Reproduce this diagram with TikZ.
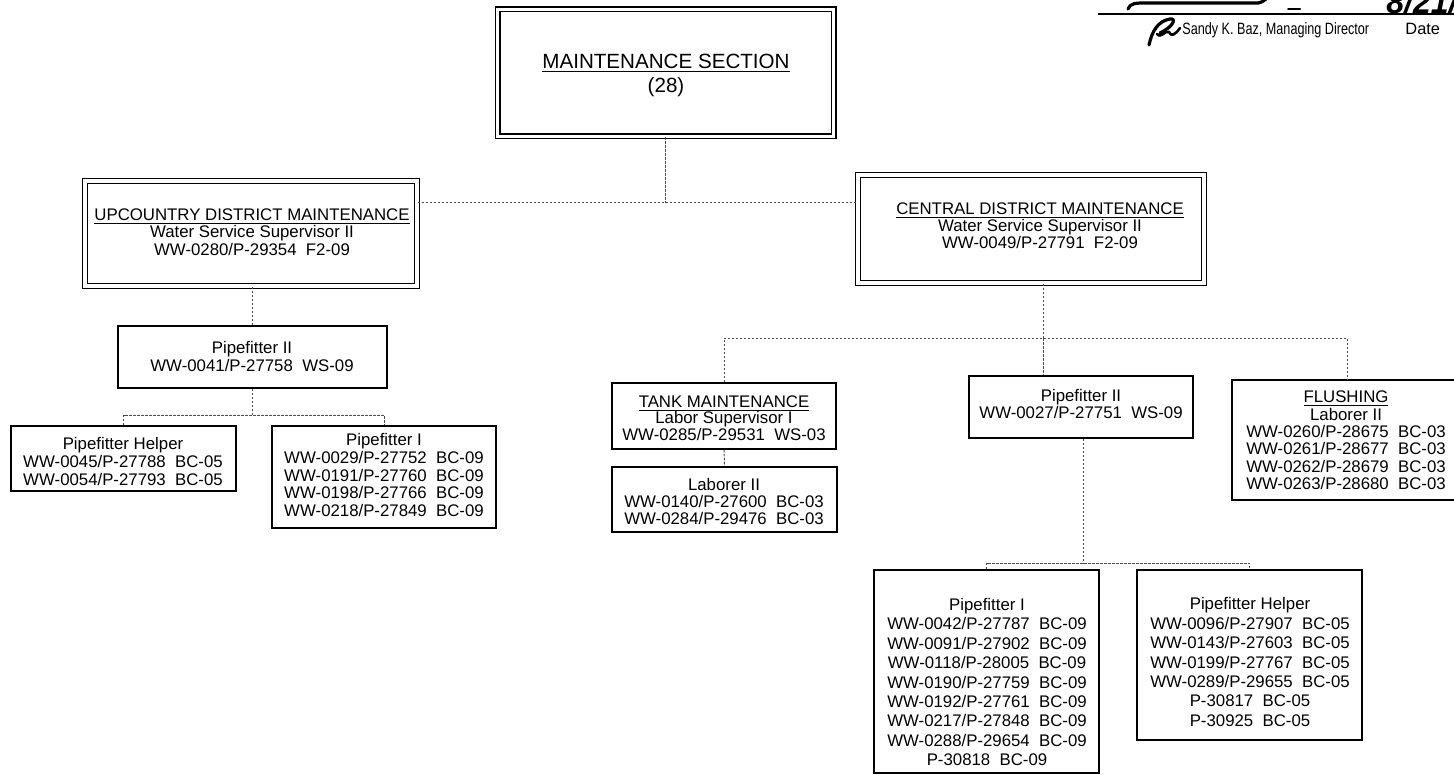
\documentclass[tikz,border=0pt]{standalone}
\usepackage{fontspec}
\setmainfont{Liberation Sans}
\newcommand{\bodyfont}[1]{\fontsize{8.4}{#1}\selectfont}
\begin{document}
\begin{tikzpicture}[x=0.5pt,y=-0.5pt,
  sz/.style 2 args={minimum width=#1*0.5pt, minimum height=#2*0.5pt},
  sbox/.style={draw, line width=0.75pt, inner sep=0pt},
  dbox/.style={draw, double, double distance=1.7pt, line width=0.65pt, inner sep=0pt},
  txt/.style={align=center, inner sep=0pt},
  conn/.style={draw=black!70, line width=0.5pt, dash pattern=on 1.3pt off 0.7pt},
  ink/.style={line width=1.6pt, line cap=round, line join=round}]
\useasboundingbox (0,0) rectangle (1454,775);

% signature block
\draw[line width=0.8pt] (1098,14) -- (1454,14);
\draw[ink] (1128,9) .. controls (1130,3) and (1136,3) .. (1146,3) -- (1258,3) .. controls (1262,2) .. (1266,-1);
\draw[ink, line width=1pt] (1288,9) -- (1300,9);
\node[font=\fontsize{16}{16}\bfseries\itshape, anchor=base west, inner sep=0pt] (date-ink) at (1386,14) {8/21/};
\draw[ink] (1149,45) .. controls (1152,31) and (1158,21) .. (1170,19) .. controls (1177,18) and (1173,27) .. (1160,33);
\draw[ink, line width=1.3pt] (1157,34) .. controls (1161,39) and (1165,30) .. (1169,32) .. controls (1171,37) and (1175,35) .. (1180,28);
\node[font=\fontsize{8.2}{10}\selectfont, anchor=base west, inner sep=0pt] (sig) at (1182,35) {\scalebox{0.77}[1]{Sandy K. Baz, Managing Director}};
\node[font=\fontsize{8.2}{10}\selectfont, anchor=base west, inner sep=0pt] (date) at (1405,35) {Date};

% section head
\node[dbox, sz={336}{127}] (sec) at (665.5,73) {};
\node[txt, font=\fontsize{10.3}{12}\selectfont] (sec-t) at (666,75) {\underline{MAINTENANCE SECTION}\\(28)};

% districts
\node[dbox, sz={332}{105}] (up) at (251,233.5) {};
\node[txt, font=\bodyfont{8.75}] (up-t) at (252,232) {\underline{UPCOUNTRY DISTRICT MAINTENANCE}\\Water Service Supervisor II\\WW-0280/P-29354~~F2-09};
\node[dbox, sz={346}{108}] (cen) at (1031,229) {};
\node[txt, font=\bodyfont{8.5}] (cen-t) at (1040,226) {\underline{CENTRAL DISTRICT MAINTENANCE}\\Water Service Supervisor II\\WW-0049/P-27791~~F2-09};

% upcountry crews
\node[sbox, sz={269}{62}] (up2) at (252.5,357) {};
\node[txt, font=\bodyfont{9}] (up2-t) at (252,356) {Pipefitter II\\WW-0041/P-27758~~WS-09};
\node[sbox, sz={225}{65}] (uph) at (123.5,458.5) {};
\node[txt, font=\bodyfont{9}] (uph-t) at (123,461) {Pipefitter Helper\\WW-0045/P-27788~~BC-05\\WW-0054/P-27793~~BC-05};
\node[sbox, sz={224}{102}] (upp1) at (384,477) {};
\node[txt, font=\bodyfont{8.9}] (upp1-t) at (384,475) {Pipefitter I\\WW-0029/P-27752~~BC-09\\WW-0191/P-27760~~BC-09\\WW-0198/P-27766~~BC-09\\WW-0218/P-27849~~BC-09};

% central crews
\node[sbox, sz={224}{66}] (tank) at (724,416) {};
\node[txt, font=\bodyfont{8.2}] (tank-t) at (724,418) {\underline{TANK MAINTENANCE}\\Labor Supervisor I\\WW-0285/P-29531~~WS-03};
\node[sbox, sz={225}{65}] (lab) at (724.5,499.5) {};
\node[txt, font=\bodyfont{8.5}] (lab-t) at (724,501) {Laborer II\\WW-0140/P-27600~~BC-03\\WW-0284/P-29476~~BC-03};
\node[sbox, sz={224}{62}] (cp2) at (1081,407) {};
\node[txt, font=\bodyfont{8.5}] (cp2-t) at (1081,403.5) {Pipefitter II\\WW-0027/P-27751~~WS-09};
\node[sbox, sz={230}{120}] (flush) at (1347,440) {};
\node[txt, font=\bodyfont{8.7}] (flush-t) at (1346,440.5) {\underline{FLUSHING}\\Laborer II\\WW-0260/P-28675~~BC-03\\WW-0261/P-28677~~BC-03\\WW-0262/P-28679~~BC-03\\WW-0263/P-28680~~BC-03};
\node[sbox, sz={225}{203}] (cp1) at (986.5,671.5) {};
\node[txt, font=\bodyfont{9.7}] (cp1-t) at (987,682) {Pipefitter I\\WW-0042/P-27787~~BC-09\\WW-0091/P-27902~~BC-09\\WW-0118/P-28005~~BC-09\\WW-0190/P-27759~~BC-09\\WW-0192/P-27761~~BC-09\\WW-0217/P-27848~~BC-09\\WW-0288/P-29654~~BC-09\\P-30818~~BC-09};
\node[sbox, sz={225}{170}] (cph) at (1249.5,655) {};
\node[txt, font=\bodyfont{9.7}] (cph-t) at (1250,662) {Pipefitter Helper\\WW-0096/P-27907~~BC-05\\WW-0143/P-27603~~BC-05\\WW-0199/P-27767~~BC-05\\WW-0289/P-29655~~BC-05\\P-30817~~BC-05\\P-30925~~BC-05};

% reporting lines
\coordinate (j0) at (665.5,203);
\draw[conn] (sec.south) -- (j0);
\draw[conn] (up.east |- j0) -- (cen.west |- j0);

\draw[conn] (up2.north |- up.south) -- (up2.north);
\coordinate (j1) at (252.5,415);
\draw[conn] (up2.south) -- (j1);
\draw[conn] (uph.north) |- (j1) -| (upp1.north);

\coordinate (j2) at (1043,338);
\draw[conn] (cen.south -| j2) -- (j2);
\draw[conn] (tank.north) |- (j2) -| (flush.north);
\draw[conn] (j2) -- (j2 |- cp2.north);
\draw[conn] (tank.south) -- (lab.north);

\coordinate (j3) at (1083,563);
\draw[conn] (cp2.south -| j3) -- (j3);
\draw[conn] (cp1.north) |- (j3) -| (cph.north);
\end{tikzpicture}
\end{document}
